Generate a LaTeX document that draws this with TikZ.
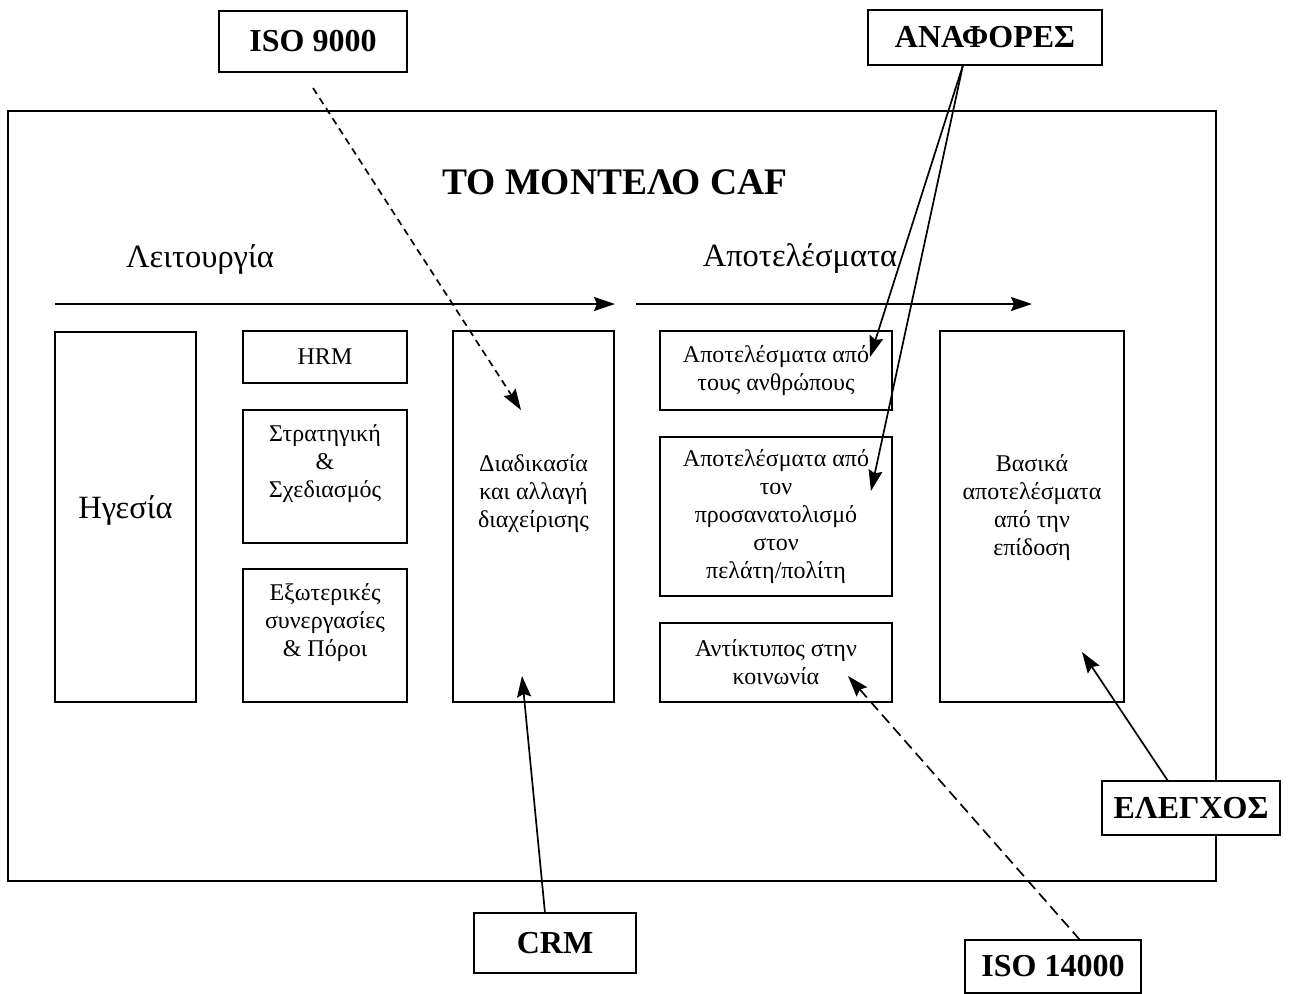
\documentclass[tikz,border=0pt]{standalone}
\usepackage{fontspec}
\setmainfont{Liberation Serif}
\usetikzlibrary{arrows.meta}
\begin{document}
\begin{tikzpicture}[x=1pt,y=-1pt,
  box/.style={draw, line width=2pt, inner sep=0pt, align=center, font=\fontsize{24}{28}\selectfont},
  tagbox/.style={draw, line width=2pt, inner sep=0pt, align=center, font=\fontsize{32}{36}\selectfont\bfseries},
  txt/.style={inner sep=0pt, align=center, font=\fontsize{24}{28}\selectfont},
  conn/.style={line width=1.7pt, -{Stealth[length=21pt,width=14pt,inset=3pt]}},
  flow/.style={line width=1.7pt, -{Stealth[length=21pt,width=14pt,inset=3pt]}},
  dsh1/.style={dash pattern=on 7pt off 5pt},
  dsh2/.style={dash pattern=on 11pt off 6pt}]
\useasboundingbox (0,0) rectangle (1316,993);

% outer frame
\node[draw, line width=2pt, minimum width=1208pt, minimum height=770pt, inner sep=0pt] (frame) at (612,496) {};

% labels
\node[inner sep=0pt, font=\fontsize{37.5}{40}\selectfont\bfseries] (title) at (615,182) {ΤΟ ΜΟΝΤΕΛΟ CAF};
\node[inner sep=0pt, font=\fontsize{32.5}{36}\selectfont] (leit) at (200,259) {Λειτουργία};
\node[inner sep=0pt, font=\fontsize{32.5}{36}\selectfont] (apot) at (800,259) {Αποτελέσματα};

% flow arrows
\coordinate (f1s) at (55,304);
\coordinate (f1e) at (615,304);
\coordinate (f2s) at (636,304);
\coordinate (f2e) at (1032,304);
\draw[flow] (f1s) -- (f1e);
\draw[flow] (f2s) -- (f2e);

% boxes
\node[box, minimum width=141pt, minimum height=370pt] (heg) at (125.5,517) {};
\node[txt, font=\fontsize{32.5}{36}\selectfont] (hegt) at (125.5,510) {Ηγεσία};
\node[box, minimum width=164pt, minimum height=52pt] (hrm) at (325,357) {HRM};
\node[box, minimum width=164pt, minimum height=133pt] (strat) at (325,476.5) {};
\node[txt] (stratt) at (325,463.5) {Στρατηγική\\\&\\Σχεδιασμός};
\node[box, minimum width=164pt, minimum height=133pt] (ext) at (325,635.5) {};
\node[txt] (extt) at (325,622.5) {Εξωτερικές\\συνεργασίες\\\& Πόροι};
\node[box, minimum width=161pt, minimum height=371pt] (diad) at (533.5,516.5) {};
\node[txt] (diadt) at (533.5,493.5) {Διαδικασία\\και αλλαγή\\διαχείρισης};
\node[box, minimum width=232pt, minimum height=79pt] (peop) at (776,370.5) {Αποτελέσματα από\\τους ανθρώπους};
\node[box, minimum width=232pt, minimum height=159pt] (cust) at (776,516.5) {Αποτελέσματα από\\τον\\προσανατολισμό\\στον\\πελάτη/πολίτη};
\node[box, minimum width=232pt, minimum height=79pt] (soc) at (776,662.5) {Αντίκτυπος στην\\κοινωνία};
\node[box, minimum width=184pt, minimum height=371pt] (bas) at (1032,516.5) {};
\node[txt] (bast) at (1032,507.5) {Βασικά\\αποτελέσματα\\από την\\επίδοση};

% external tags
\node[tagbox, minimum width=188pt, minimum height=61pt] (iso9) at (313,41.5) {ISO 9000};
\node[tagbox, minimum width=234pt, minimum height=55pt] (anaf) at (985,37.5) {ΑΝΑΦΟΡΕΣ};
\node[tagbox, minimum width=178pt, minimum height=54pt, fill=white] (eleg) at (1191,808) {ΕΛΕΓΧΟΣ};
\node[tagbox, minimum width=162pt, minimum height=60pt] (crm) at (555,943) {CRM};
\node[tagbox, minimum width=176pt, minimum height=53pt] (iso14) at (1053,966) {ISO 14000};

% connector endpoints
\coordinate (i9a) at (313,88);
\coordinate (i9b) at (521,410);
\coordinate (ana) at (963,65);
\coordinate (anb) at (870,357);
\coordinate (anc) at (871,491);
\coordinate (cra) at (545,913);
\coordinate (crb) at (522,676);
\coordinate (i14a) at (1080,940);
\coordinate (i14b) at (848,676);
\coordinate (ela) at (1168,781);
\coordinate (elb) at (1082,652);

\draw[conn, dsh1] (i9a) -- (i9b);
\draw[conn] (ana) -- (anb);
\draw[conn] (ana) -- (anc);
\draw[conn] (cra) -- (crb);
\draw[conn, dsh2] (i14a) -- (i14b);
\draw[conn] (ela) -- (elb);
\end{tikzpicture}
\end{document}
